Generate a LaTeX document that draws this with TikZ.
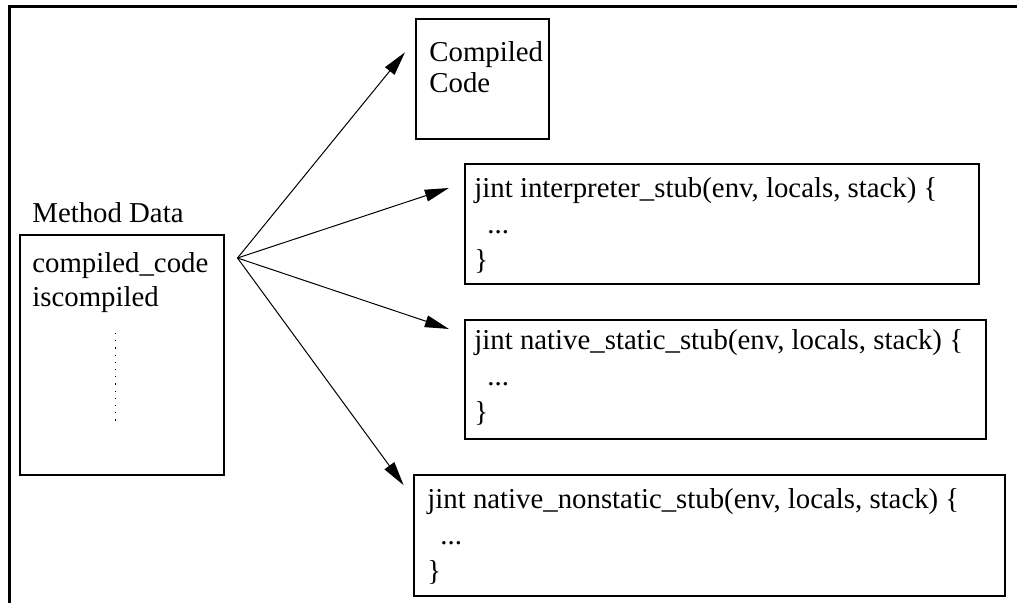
\documentclass[tikz,border=0pt]{standalone}
\usepackage{fontspec}
\setmainfont{Liberation Serif}
\usetikzlibrary{positioning, arrows.meta}

\begin{document}
\begin{tikzpicture}[x=0.5pt, y=-0.5pt, font=\fontsize{14.4}{17}\selectfont,
    box/.style={draw, line width=0.75pt, inner sep=0pt, anchor=north west},
    txt/.style={inner sep=0pt, anchor=base west},
    link/.style={-{Triangle[length=12pt, width=6pt]}, line width=0.5pt,
      shorten >=8pt}]
    % Canvas in pixels: 1017 x 602, y grows downwards
    \useasboundingbox (0,0) rectangle (1017,602);
    % Frame on the top and left sides only
    \draw[line width=1.5pt] (9.5,610) -- (9.5,6.5) -- (1025,6.5);
    % Method data record
    \node[txt] (mdlabel) at (32,222) {Method Data};
    \node[box, minimum width=102pt, minimum height=120pt] (md) at (19,234) {};
    \node[txt] (ccfield) at (32,272) {compiled\_code};
    \node[txt] (iscomp) at (32,306) {iscompiled};
    \draw[line width=0.5pt, dash pattern=on 0.6pt off 3pt] (115,333) -- (115,422);
    % Targets of the code pointer
    \node[box, minimum width=66.5pt, minimum height=60pt] (cc) at (415,18) {};
    \node[txt] (cc1) at (429,61) {Compiled};
    \node[txt] (cc2) at (429,92) {Code};
    \node[box, minimum width=257pt, minimum height=60pt] (interp) at (464,163) {};
    \node[txt] (interp1) at (474,197) {jint interpreter\_stub(env, locals, stack) \{};
    \node[txt] (interp2) at (474,233) {\hspace*{0.45em}...};
    \node[txt] (interp3) at (474,269) {\}};
    \node[box, minimum width=260.5pt, minimum height=59.5pt] (static) at (464,319) {};
    \node[txt] (static1) at (474,349) {jint native\_static\_stub(env, locals, stack) \{};
    \node[txt] (static2) at (474,385) {\hspace*{0.45em}...};
    \node[txt] (static3) at (474,421) {\}};
    \node[box, minimum width=295.5pt, minimum height=60.5pt] (nonstatic) at (413,474) {};
    \node[txt] (nonstatic1) at (427,508) {jint native\_nonstatic\_stub(env, locals, stack) \{};
    \node[txt] (nonstatic2) at (427,544) {\hspace*{0.45em}...};
    \node[txt] (nonstatic3) at (427,580) {\}};
    % Fan of pointers
    \coordinate (fan) at ([xshift=6.5pt, yshift=-12pt]md.north east);
    \draw[link] (fan) -- ([yshift=-11pt]cc.north west);
    \draw[link] (fan) -- ([yshift=-10pt]interp.north west);
    \draw[link] (fan) -- ([yshift=-7.5pt]static.north west);
    \draw[link] (fan) -- ([yshift=-12pt]nonstatic.north west);
\end{tikzpicture}
\end{document}
